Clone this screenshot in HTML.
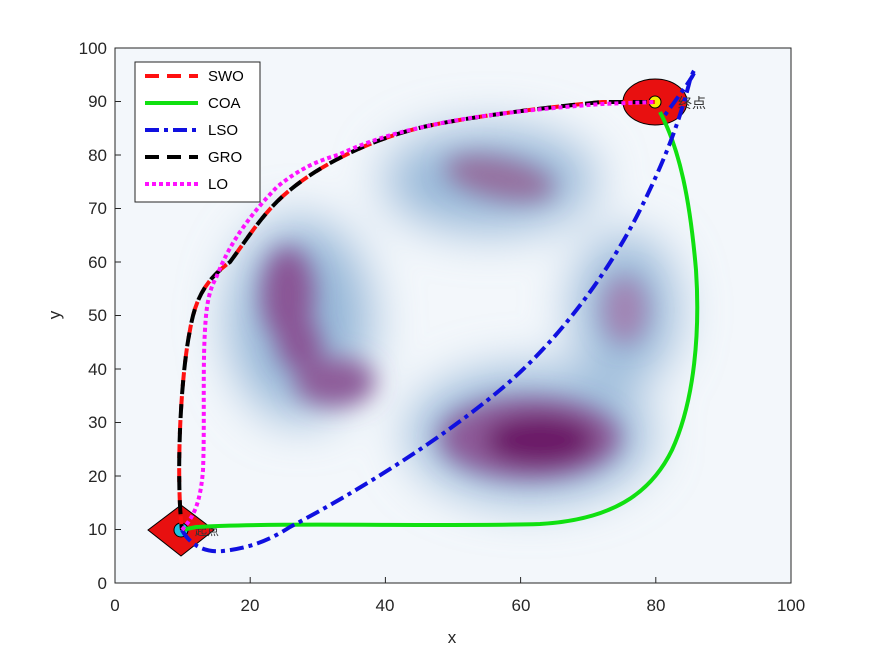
<!DOCTYPE html>
<html><head><meta charset="utf-8"><style>body{margin:0;background:#fff}svg{display:block}</style></head><body>
<svg width="875" height="656" xmlns="http://www.w3.org/2000/svg" font-family="Liberation Sans, sans-serif">
<defs>
<filter id="b1" x="-50%" y="-50%" width="200%" height="200%"><feGaussianBlur stdDeviation="25"/></filter>
<filter id="b2" x="-50%" y="-50%" width="200%" height="200%"><feGaussianBlur stdDeviation="12"/></filter>
<clipPath id="c"><rect x="115" y="48" width="676" height="535"/></clipPath>
</defs>
<rect width="875" height="656" fill="#fff"/>
<g clip-path="url(#c)">
<rect x="115" y="48" width="676" height="535" fill="#f3f7fb"/>
<g filter="url(#b1)" fill="#92b4d6">
<ellipse cx="530" cy="435" rx="120" ry="65"/>
<ellipse cx="300" cy="320" rx="70" ry="100"/>
<ellipse cx="490" cy="180" rx="105" ry="50"/>
<ellipse cx="625" cy="310" rx="50" ry="75"/>
</g>
<g filter="url(#b2)">
<ellipse cx="530" cy="438" rx="90" ry="40" fill="#8d5a98"/>
<ellipse cx="540" cy="440" rx="55" ry="25" fill="#6a1566"/>
<ellipse cx="288" cy="295" rx="26" ry="48" fill="#8a5495"/>
<ellipse cx="300" cy="345" rx="22" ry="25" fill="#8a5495"/>
<ellipse cx="335" cy="382" rx="40" ry="24" fill="#8e5b99"/>
<ellipse cx="500" cy="178" rx="55" ry="20" fill="#95709f" transform="rotate(12 500 178)"/>
<ellipse cx="625" cy="310" rx="22" ry="33" fill="#a184b4"/>
</g>
</g>
<rect x="115" y="48" width="676" height="535" fill="none" stroke="#262626" stroke-width="1"/>
<g stroke="#262626">
<path d="M115,583v-6M250.2,583v-6M385.4,583v-6M520.6,583v-6M655.8,583v-6M791,583v-6"/>
<path d="M115,583h6M115,529.5h6M115,476h6M115,422.5h6M115,369h6M115,315.5h6M115,262h6M115,208.5h6M115,155h6M115,101.5h6M115,48h6"/>
</g>
<g font-size="17" fill="#262626" text-anchor="middle">
<text x="115" y="611">0</text><text x="250" y="611">20</text><text x="385" y="611">40</text><text x="521" y="611">60</text><text x="656" y="611">80</text><text x="791" y="611">100</text>
<text x="452" y="643">x</text>
</g>
<g font-size="17" fill="#262626" text-anchor="end">
<text x="107" y="589">0</text><text x="107" y="535">10</text><text x="107" y="482">20</text><text x="107" y="428">30</text><text x="107" y="375">40</text><text x="107" y="321">50</text><text x="107" y="268">60</text><text x="107" y="214">70</text><text x="107" y="161">80</text><text x="107" y="107">90</text><text x="107" y="54">100</text>
</g>
<text x="60" y="315" font-size="17" fill="#262626" text-anchor="middle" transform="rotate(-90 60 315)">y</text>
<polygon points="181,505 214,530 181,556 148,530" fill="#e81010" stroke="#000"/>
<circle cx="181" cy="530" r="7" fill="#20c0e0" stroke="#000"/>
<ellipse cx="655" cy="102" rx="32" ry="23" fill="#e81010" stroke="#000"/>
<circle cx="655" cy="102" r="6" fill="#f5f000" stroke="#000"/>
<text x="678" y="108" font-size="14" fill="#333" font-family="Noto Sans CJK SC, sans-serif">终点</text>
<text x="195" y="535" font-size="12" fill="#333" font-family="Noto Sans CJK SC, sans-serif">起点</text>
<g fill="none" stroke-width="4">
<path d="M182,530 L196,527 C280,522 450,527 540,524 C610,520 650,495 672,450 C695,400 700,330 696,270 C690,200 680,150 660,112" stroke="#10e010"/>
<path d="M182,530 C190,545 205,553 223,551 C250,548 270,540 290,527 C360,490 440,440 500,390 C560,340 610,270 640,210 C665,160 680,120 690,80 C695,65 698,68 690,80 C680,95 672,105 665,115" stroke="#1010e0" stroke-dasharray="14,5,4,5"/>
<path d="M182,530 C176,480 180,380 190,330 C195,300 205,280 230,262 C250,235 265,210 290,190 C320,165 370,140 419,128 C460,118 540,108 602,102 L656,102" stroke="#ff1010" stroke-dasharray="14,10"/>
<path d="M182,530 C176,480 180,380 190,330 C195,300 205,280 230,262 C250,235 265,210 290,190 C320,165 370,140 419,128 C460,118 540,108 602,102 L656,102" stroke="#000" stroke-dasharray="14,10" stroke-dashoffset="8"/>
<path d="M182,530 C190,520 200,510 203,470 C205,420 202,360 206,316 C208,295 212,285 216,278 C225,255 240,225 277,187 C300,168 320,160 338,155 C370,140 400,132 419,128 C460,118 520,110 602,104 L656,102" stroke="#ff10ff" stroke-dasharray="4,3"/>
</g>
<rect x="135" y="62" width="125" height="140" fill="#fff" stroke="#262626"/>
<g stroke-width="4" fill="none">
<path d="M145,76h53" stroke="#ff1010" stroke-dasharray="14,8"/>
<path d="M145,103h53" stroke="#10e010"/>
<path d="M145,130h53" stroke="#1010e0" stroke-dasharray="14,5,4,5"/>
<path d="M145,157h53" stroke="#000" stroke-dasharray="14,8"/>
<path d="M145,184h53" stroke="#ff10ff" stroke-dasharray="4,3"/>
</g>
<g font-size="15" fill="#000">
<text x="208" y="81">SWO</text><text x="208" y="108">COA</text><text x="208" y="135">LSO</text><text x="208" y="162">GRO</text><text x="208" y="189">LO</text>
</g>
</svg>
</body></html>
